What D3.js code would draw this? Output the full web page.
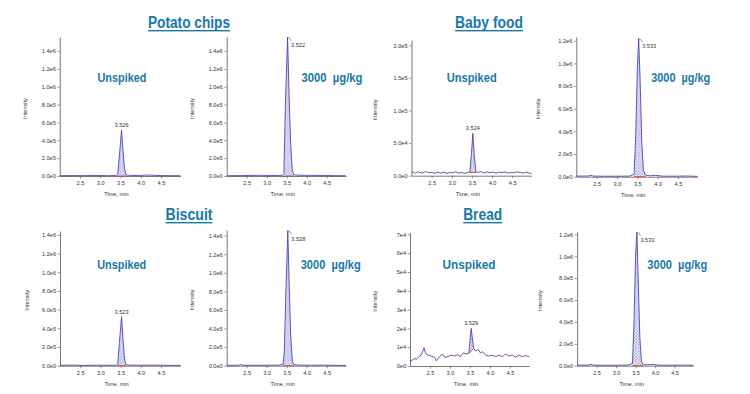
<!DOCTYPE html>
<html>
<head>
<meta charset="utf-8">
<script src="https://cdn.jsdelivr.net/npm/d3@7"></script>
<style>
body { margin: 0; background: #fff; }
svg text { font-family: "Liberation Sans", Arial, sans-serif; }
</style>
</head>
<body>
<div id="chart"></div>
<script>
// sample groups and panel labels
var groupTitles = ["Potato chips", "Baby food", "Biscuit", "Bread"];
var sampleLabels = ["Unspiked", "3000  µg/kg", "Unspiked", "3000  µg/kg",
                    "Unspiked", "3000  µg/kg", "Unspiked", "3000  µg/kg"];
var spiked = [false, true, false, true, false, true, false, true];
var peakRT = [3.526, 3.522, 3.524, 3.533, 3.523, 3.528, 3.529, 3.533];

// axis extents and ticks
var timeRange = [2.0, 4.98];
var xTicks = [2.5, 3.0, 3.5, 4.0, 4.5];
var yMax = [1.557e6, 1.557e6, 2.08e5, 1.233e6, 1.443e6, 1.461e6, 7.1e4, 1.224e6];
var ticks14 = [0, 2e5, 4e5, 6e5, 8e5, 1e6, 1.2e6, 1.4e6];
var ticks12 = [0, 2e5, 4e5, 6e5, 8e5, 1e6, 1.2e6];
var ticks2e5 = [0, 5e4, 1e5, 1.5e5, 2e5];
var ticks7e4 = [0, 1e4, 2e4, 3e4, 4e4, 5e4, 6e4, 7e4];
var yTicks = [ticks14, ticks14, ticks2e5, ticks12, ticks14, ticks14, ticks7e4, ticks12];

// chromatogram traces (time in min, intensity in cps)
var potatoUnspikedT = [2.0, 2.3, 2.6, 2.9, 3.2, 3.4, 3.43, 3.48, 3.526, 3.56, 3.6, 3.64, 3.7, 3.9, 4.2, 4.5, 4.8, 4.98];
var potatoUnspikedI = [3e3, 5e3, 4e3, 6e3, 4e3, 5e3, 1.5e4, 2.6e5, 5.15e5, 3e5, 8e4, 1.2e4, 8e3, 6e3, 1e4, 5e3, 4e3, 3e3];
var potatoSpikedT = [2.0, 2.4, 2.8, 3.1, 3.3, 3.4, 3.43, 3.47, 3.522, 3.56, 3.6, 3.64, 3.68, 3.8, 4.1, 4.4, 4.7, 4.98];
var potatoSpikedI = [3e3, 5e3, 8e3, 6e3, 5e3, 8e3, 3e4, 8.5e5, 1.556e6, 9e5, 3.5e5, 6e4, 1.2e4, 9e3, 7e3, 6e3, 4e3, 3e3];
var babyUnspikedT = [2.0, 2.05, 2.1, 2.15, 2.2, 2.28, 2.35, 2.42, 2.5, 2.58, 2.65, 2.72, 2.8, 2.88, 2.95, 3.02, 3.1, 3.18, 3.25, 3.32, 3.4, 3.45, 3.49, 3.524, 3.56, 3.6, 3.65, 3.72, 3.8, 3.88, 3.95, 4.02, 4.1, 4.18, 4.25, 4.32, 4.4, 4.48, 4.55, 4.62, 4.7, 4.78, 4.85, 4.92, 4.98];
var babyUnspikedI = [5e3, 5.5e3, 3.5e3, 6e3, 5e3, 4e3, 6.5e3, 4.5e3, 5e3, 3.5e3, 5.5e3, 4e3, 5.5e3, 3.5e3, 5e3, 4.5e3, 6e3, 4e3, 5e3, 3.5e3, 5e3, 6e3, 3.5e4, 6.5e4, 3e4, 6e3, 5e3, 6.5e3, 4e3, 6e3, 4.5e3, 5.5e3, 4e3, 5.5e3, 4.5e3, 6e3, 4e3, 5e3, 4.5e3, 6e3, 5e3, 4e3, 5.5e3, 4e3, 3e3];
var babySpikedT = [2.0, 2.3, 2.36, 2.42, 2.7, 3.0, 3.3, 3.42, 3.46, 3.5, 3.533, 3.57, 3.61, 3.65, 3.7, 3.8, 3.95, 4.1, 4.4, 4.7, 4.98];
var babySpikedI = [5e3, 6e3, 1.2e4, 5e3, 4e3, 4e3, 5e3, 2e4, 3.5e5, 9.5e5, 1.22e6, 8.5e5, 3e5, 6e4, 1.5e4, 8e3, 1.2e4, 5e3, 4e3, 6e3, 3e3];
var biscuitUnspikedT = [2.0, 2.3, 2.6, 2.9, 3.2, 3.4, 3.43, 3.47, 3.523, 3.56, 3.6, 3.63, 3.7, 4.0, 4.3, 4.6, 4.98];
var biscuitUnspikedI = [4e3, 6e3, 3e3, 5e3, 4e3, 5e3, 1.5e4, 2.5e5, 5.25e5, 2.8e5, 6e4, 1.2e4, 6e3, 5e3, 6e3, 4e3, 3e3];
var biscuitSpikedT = [2.0, 2.3, 2.36, 2.42, 2.7, 3.0, 3.3, 3.41, 3.44, 3.48, 3.528, 3.56, 3.6, 3.64, 3.68, 3.8, 4.1, 4.4, 4.7, 4.98];
var biscuitSpikedI = [4e3, 5e3, 1.2e4, 5e3, 4e3, 5e3, 6e3, 1.5e4, 1.5e5, 8e5, 1.455e6, 9e5, 3.2e5, 5e4, 1.2e4, 7e3, 5e3, 6e3, 4e3, 3e3];
var breadUnspikedT = [2.0, 2.06, 2.12, 2.16, 2.22, 2.28, 2.35, 2.39, 2.45, 2.53, 2.62, 2.66, 2.74, 2.81, 2.87, 2.95, 3.03, 3.12, 3.18, 3.26, 3.33, 3.41, 3.47, 3.529, 3.59, 3.64, 3.7, 3.76, 3.82, 3.89, 3.97, 4.06, 4.14, 4.22, 4.31, 4.39, 4.47, 4.56, 4.64, 4.72, 4.81, 4.89, 4.98];
var breadUnspikedI = [2.3e3, 3.2e3, 4e3, 3.5e3, 5e3, 5.8e3, 9.7e3, 6.7e3, 5.8e3, 5.3e3, 4.6e3, 2.8e3, 5e3, 6.4e3, 4.6e3, 5e3, 5.8e3, 5.3e3, 6e3, 5e3, 7e3, 6.4e3, 6.7e3, 2.0e4, 9.4e3, 8e3, 8.8e3, 7e3, 7.6e3, 5.8e3, 5.3e3, 5.8e3, 5e3, 5.8e3, 5e3, 6.4e3, 5.3e3, 5.8e3, 4.6e3, 5.8e3, 5e3, 5.5e3, 5e3];
var breadSpikedT = [2.0, 2.3, 2.36, 2.42, 2.7, 3.0, 3.3, 3.42, 3.46, 3.5, 3.533, 3.57, 3.61, 3.65, 3.69, 3.8, 3.95, 4.1, 4.4, 4.7, 4.98];
var breadSpikedI = [5e3, 6e3, 1.2e4, 5e3, 4e3, 4e3, 5e3, 2e4, 4e5, 1e6, 1.22e6, 7.5e5, 2.5e5, 4e4, 1.2e4, 8e3, 1.2e4, 5e3, 4e3, 6e3, 3e3];

var traceT = [potatoUnspikedT, potatoSpikedT, babyUnspikedT, babySpikedT, biscuitUnspikedT, biscuitSpikedT, breadUnspikedT, breadSpikedT];
var traceI = [potatoUnspikedI, potatoSpikedI, babyUnspikedI, babySpikedI, biscuitUnspikedI, biscuitSpikedI, breadUnspikedI, breadSpikedI];

// integration windows (start/end time and baseline intensity there)
var peakStart = [3.43, 3.43, 3.45, 3.42, 3.43, 3.41, 3.47, 3.42];
var peakEnd = [3.64, 3.68, 3.6, 3.7, 3.63, 3.68, 3.59, 3.69];
var baseStart = [0, 0, 5e3, 0, 0, 0, 6.7e3, 0];
var baseEnd = [0, 0, 5e3, 0, 0, 0, 9.4e3, 0];

// layout (pixels)
var W = 750, H = 394;
var boxes = [
    {l: 59.75, r: 180.4, t: 37, b: 176},
    {l: 226.7, r: 345.9, t: 37, b: 176},
    {l: 411.5, r: 531.5, t: 40, b: 175.7},
    {l: 576.3, r: 697.5, t: 37, b: 176.7},
    {l: 60, r: 180.4, t: 231, b: 365.7},
    {l: 226.7, r: 345.9, t: 230, b: 365.7},
    {l: 410, r: 529.2, t: 232.5, b: 366},
    {l: 577.1, r: 693.3, t: 231.7, b: 365.7}
];
var labelPos = [
    {x: 122, y: 81.5, w: 49}, {x: 332, y: 81.5, w: 61},
    {x: 471.7, y: 81.5, w: 50}, {x: 680.7, y: 81.5, w: 59},
    {x: 121.7, y: 269.3, w: 49}, {x: 330.7, y: 269.3, w: 60},
    {x: 469, y: 269.3, w: 53}, {x: 677.3, y: 269.3, w: 60}
];
var intensityX = [25, 192, 375, 538, 26.5, 191.7, 375, 540];
var titlePos = [
    {x: 189, y: 28, w: 82}, {x: 489, y: 28, w: 68},
    {x: 189, y: 220, w: 47}, {x: 482.7, y: 220, w: 39}
];

var blue = '#1878a8';
var traceColor = '#4646b4';

var svg = d3.select('#chart').append('svg')
    .attr('width', W)
    .attr('height', H);

// hatched fill for integrated peaks
var pat = svg.append('defs').append('pattern')
    .attr('id', 'hatch')
    .attr('patternUnits', 'userSpaceOnUse')
    .attr('width', 3)
    .attr('height', 3);
pat.append('rect').attr('width', 3).attr('height', 3).attr('fill', '#e4e4f6');
pat.append('path').attr('d', 'M0,3L3,0M0,0L3,3')
    .attr('stroke', '#a4a4de').attr('stroke-width', 0.5);

function sciFormat(digits) {
    var f = d3.format('.' + digits + 'e');
    return function(v) { return f(v).replace('e+', 'e'); };
}

function drawPanel(i) {
    var box = boxes[i];
    var x = d3.scaleLinear().domain(timeRange).range([box.l, box.r]);
    var y = d3.scaleLinear().domain([0, yMax[i]]).range([box.b, box.t]);
    var g = svg.append('g');

    var pts = traceT[i].map(function(t, k) { return [t, traceI[i][k]]; });

    // integrated area between trace and baseline
    var base = d3.scaleLinear().domain([peakStart[i], peakEnd[i]]).range([baseStart[i], baseEnd[i]]);
    var peakPts = pts.filter(function(p) { return p[0] >= peakStart[i] - 1e-6 && p[0] <= peakEnd[i] + 1e-6; });
    g.append('path')
        .datum(peakPts)
        .attr('fill', 'url(#hatch)')
        .attr('d', d3.area()
            .x(function(d) { return x(d[0]); })
            .y0(function(d) { return y(base(d[0])); })
            .y1(function(d) { return y(d[1]); }));

    // axes
    var yAxis = g.append('g')
        .attr('transform', 'translate(' + box.l + ',0)')
        .call(d3.axisLeft(y).tickValues(yTicks[i]).tickSize(2.5).tickSizeOuter(0).tickPadding(1.5)
            .tickFormat(i == 6 ? sciFormat(0) : sciFormat(1)));
    var xAxis = g.append('g')
        .attr('transform', 'translate(0,' + box.b + ')')
        .call(d3.axisBottom(x).tickValues(xTicks).tickSize(2.5).tickSizeOuter(0).tickPadding(3)
            .tickFormat(d3.format('.1f')));
    [yAxis, xAxis].forEach(function(a) {
        a.select('.domain').attr('stroke', '#555').attr('stroke-width', 0.8);
        a.selectAll('.tick line').attr('stroke', '#555').attr('stroke-width', 0.6);
        a.selectAll('.tick text').attr('fill', '#333').style('font-size', '5.6px')
            .style('font-family', '"Liberation Sans", Arial, sans-serif');
    });

    // trace
    g.append('path')
        .datum(pts)
        .attr('fill', 'none')
        .attr('stroke', traceColor)
        .attr('stroke-width', 0.9)
        .attr('d', d3.line()
            .x(function(d) { return x(d[0]); })
            .y(function(d) { return y(d[1]); }));

    // integration baseline
    g.append('line')
        .attr('x1', x(peakStart[i])).attr('x2', x(peakEnd[i]))
        .attr('y1', y(baseStart[i])).attr('y2', y(baseEnd[i]))
        .attr('stroke', '#e24848').attr('stroke-width', 1);

    // retention time label
    var apex = pts.reduce(function(a, b) { return b[1] > a[1] ? b : a; });
    var ax = x(apex[0]), ay = y(apex[1]);
    if(spiked[i]) {
        g.append('path')
            .attr('d', 'M' + (ax + 0.5) + ',' + (ay + 1) + 'Q' + (ax + 2) + ',' + (ay - 1) + ' ' + (ax + 3.5) + ',' + (ay + 4))
            .attr('fill', 'none').attr('stroke', '#444').attr('stroke-width', 0.5);
        g.append('text')
            .attr('x', ax + 3.5).attr('y', ay + 10)
            .style('font-size', '5.6px').attr('fill', '#333')
            .text(peakRT[i].toFixed(3));
    }
    else {
        g.append('text')
            .attr('x', ax).attr('y', ay - 3)
            .attr('text-anchor', 'middle')
            .style('font-size', '5.6px').attr('fill', '#333')
            .text(peakRT[i].toFixed(3));
    }

    // axis titles
    g.append('text')
        .attr('transform', 'translate(' + (intensityX[i] + 2) + ',' + ((box.t + box.b) / 2 + 2) + ') rotate(-90)')
        .attr('text-anchor', 'middle')
        .style('font-size', '5.6px').attr('fill', '#333')
        .text('Intensity');
    g.append('text')
        .attr('x', x(3.4)).attr('y', box.b + 20)
        .attr('text-anchor', 'middle')
        .style('font-size', '5.6px').attr('fill', '#333')
        .text('Time, min');

    // sample label
    var lp = labelPos[i];
    g.append('text')
        .attr('x', lp.x - lp.w / 2).attr('y', lp.y)
        .attr('textLength', lp.w).attr('lengthAdjust', 'spacingAndGlyphs')
        .style('font-size', '12.5px').style('font-weight', 'bold')
        .style('white-space', 'pre')
        .attr('fill', blue)
        .text(sampleLabels[i]);
}

d3.range(8).forEach(drawPanel);

// group titles, underlined
titlePos.forEach(function(p, k) {
    svg.append('text')
        .attr('x', p.x - p.w / 2).attr('y', p.y)
        .attr('textLength', p.w).attr('lengthAdjust', 'spacingAndGlyphs')
        .style('font-size', '16px').style('font-weight', 'bold')
        .attr('fill', blue)
        .text(groupTitles[k]);
    svg.append('rect')
        .attr('x', p.x - p.w / 2).attr('y', p.y + 2)
        .attr('width', p.w).attr('height', 1.4)
        .attr('fill', blue);
});
</script>
</body>
</html>
